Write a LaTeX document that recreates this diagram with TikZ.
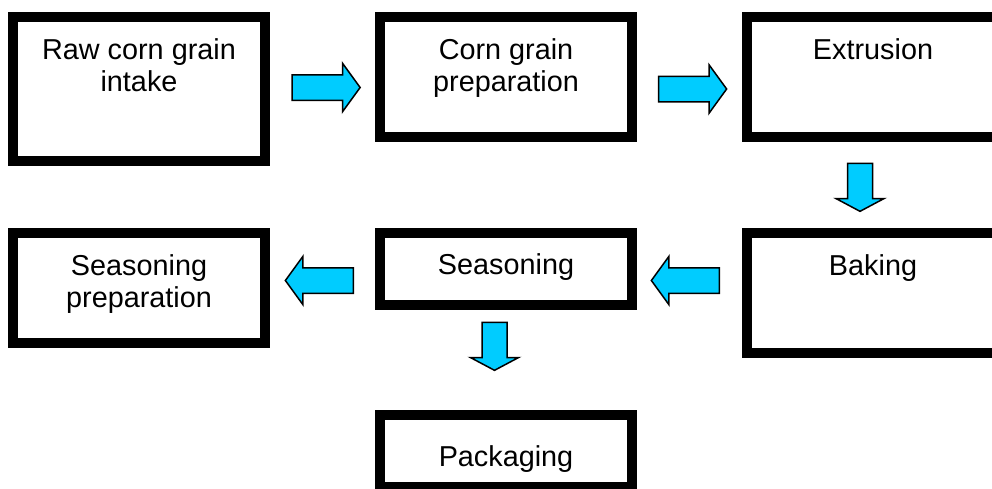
\documentclass[tikz,border=0pt]{standalone}
\usepackage{fontspec}
\setmainfont{Liberation Sans}
\usetikzlibrary{shapes.arrows,calc}
\definecolor{flowcyan}{RGB}{0,204,255}
\begin{document}
\begin{tikzpicture}[x=1pt,y=-1pt,
  stage/.style={rectangle, draw=black, line width=10pt, fill=white,
                anchor=north west, inner sep=0pt, minimum width=252pt},
  caption/.style={anchor=base, inner sep=0pt,
                  font=\fontsize{28.8}{32}\selectfont},
  flowbase/.style={single arrow, draw=black, line width=1.5pt, fill=flowcyan,
                   single arrow head extend=11.5pt, single arrow head indent=0pt},
  flowR/.style={flowbase, inner xsep=0pt, inner ysep=12pt,
                single arrow tip angle=108, minimum height=68pt},
  flowL/.style={flowR, shape border rotate=180},
  flowD/.style={flowbase, inner xsep=11.75pt, inner ysep=0pt,
                single arrow tip angle=124, minimum height=48pt,
                shape border rotate=270}]
\useasboundingbox (0,0) rectangle (992,488);

% process stages
\node[stage, minimum height=144pt] (raw)      at (8,12)    {};
\node[stage, minimum height=120pt] (prep)     at (375,12)  {};
\node[stage, minimum height=120pt] (extr)     at (742,12)  {};
\node[stage, minimum height=120pt] (bake)     at (742,228) {};
\node[stage, minimum height=72pt]  (season)   at (375,228) {};
\node[stage, minimum height=110pt] (seasprep) at (8,228)   {};
\node[stage, minimum height=72pt]  (pack)     at (375,410) {};

% stage captions
\node[caption] (rawtxt) at ($(raw.north)+(0,47)$)
  {\begin{tabular}[t]{@{}c@{}}Raw corn grain\\intake\end{tabular}};
\node[caption] (preptxt) at ($(prep.north)+(0,47)$)
  {\begin{tabular}[t]{@{}c@{}}Corn grain\\preparation\end{tabular}};
\node[caption] (extrtxt) at ($(extr.north)+(0,47)$) {Extrusion};
\node[caption] (baketxt) at ($(bake.north)+(0,47)$) {Baking};
\node[caption] (seasontxt) at ($(season.north)+(0,46)$) {Seasoning};
\node[caption] (seaspreptxt) at ($(seasprep.north)+(0,47)$)
  {\begin{tabular}[t]{@{}c@{}}Seasoning\\preparation\end{tabular}};
\node[caption] (packtxt) at ($(pack.north)+(0,56)$) {Packaging};

% block arrows between stages
\node[flowR] (a1) at ($(raw.east)!0.5!(prep.west |- raw.east)+(-1,-1.5)$) {};
\node[flowR] (a2) at (688,89) {};
\node[flowD] (a3) at (860,184) {};
\node[flowL] (a4) at (690,280.5) {};
\node[flowL] (a5) at (324,280.5) {};
\node[flowD] (a6) at (494.5,343) {};
\end{tikzpicture}
\end{document}
